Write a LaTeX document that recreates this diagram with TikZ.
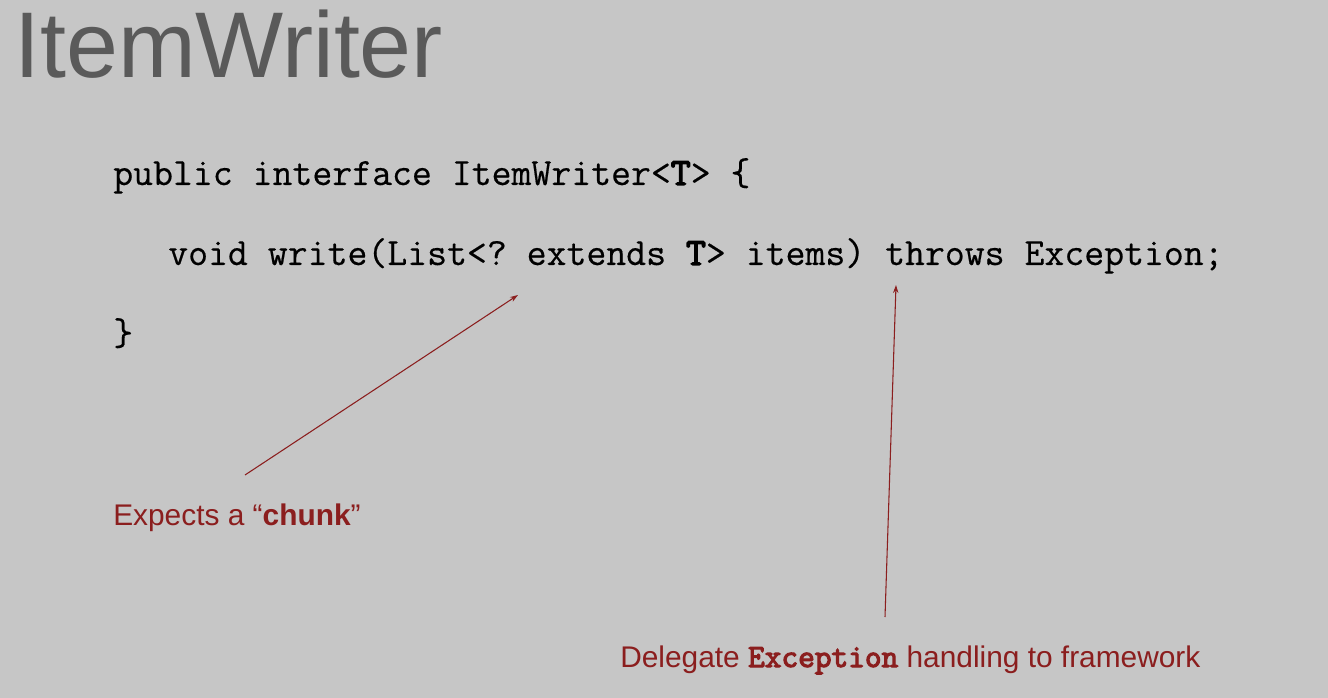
\documentclass[tikz,border=0pt]{standalone}
\usepackage{fontspec}
\usetikzlibrary{arrows.meta}
\setmainfont{Liberation Sans}
\setmonofont{Latin Modern Mono}[UprightFeatures={FakeBold=0.4},BoldFont={Latin Modern Mono},BoldFeatures={FakeBold=3.5}]
\definecolor{bgc}{HTML}{C6C6C6}
\definecolor{titlec}{HTML}{5A5A5A}
\definecolor{redc}{HTML}{8B1E1E}
\begin{document}
\begin{tikzpicture}[x=0.75pt,y=-0.75pt,
  code/.style={anchor=base west,inner sep=0pt,font=\ttfamily\fontsize{29pt}{34pt}\selectfont,text=black},
  note/.style={anchor=base west,inner sep=0pt,font=\fontsize{22.4pt}{26pt}\selectfont,text=redc},
  pointer/.style={draw=redc,line width=0.8pt,-{Stealth[length=6pt,width=4pt]}}]
\fill[bgc] (0,0) rectangle (1328,698);
\useasboundingbox (0,0) rectangle (1328,698);
\node[anchor=base west,inner sep=0pt,font=\fontsize{70pt}{80pt}\selectfont,text=titlec] (title) at (14,78) {ItemWriter};
\node[code] (l1) at (113,185) {public interface ItemWriter<\textbf{T}> \{};
\node[code] (l2) at (168,265) {void write(List<? extends \textbf{T}> items) throws Exception;};
\node[code] (l3) at (113,345) {\}};
\node[note] (n1) at (113,525) {Expects a “\textbf{chunk}”};
\node[note] (n2) at (620,667) {Delegate {\ttfamily\bfseries\fontsize{24.3pt}{26pt}\selectfont Exception} handling to framework};
\coordinate (a1s) at (245,475);
\coordinate (a1e) at (518,295);
\coordinate (a2s) at (885,617);
\coordinate (a2e) at (896,285);
\draw[pointer] (a1s) -- (a1e);
\draw[pointer] (a2s) -- (a2e);
\end{tikzpicture}
\end{document}
